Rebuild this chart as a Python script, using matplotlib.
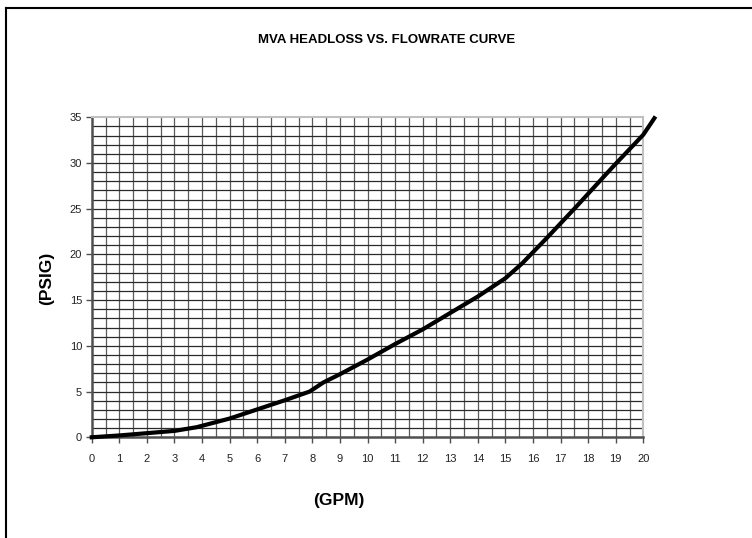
import numpy as np
import matplotlib.pyplot as plt
from matplotlib.lines import Line2D

plt.rcParams['font.family'] = ['Liberation Sans', 'DejaVu Sans']

# flowrate (GPM) and headloss (PSIG)
gpm = [0, 1, 2, 3, 3.8, 5, 6, 7, 7.9, 8.4, 9, 10, 11, 12, 13, 14, 15, 15.6,
       16.5, 17.5, 18.9, 20, 20.4]
psig = [0, 0.2, 0.45, 0.7, 1.1, 2.05, 3.05, 4.05, 5.0, 6.0, 6.9, 8.5, 10.2,
        11.8, 13.6, 15.4, 17.4, 19.0, 21.8, 25.0, 29.6, 33.1, 34.9]

x_ticks = list(range(0, 21))
y_ticks = [0, 5, 10, 15, 20, 25, 30, 35]

fig = plt.figure(figsize=(7.52, 5.38), dpi=100)
ax = fig.add_axes([0.122, 0.1872, 0.7335, 0.5948])

# grid: vertical every 0.5, horizontal every 1
for xv in np.arange(0.5, 20, 0.5):
    ax.axvline(xv, color='#5a5a5a', lw=0.9, zorder=1)
for yv in range(1, 35):
    ax.axhline(yv, color='#2a2a2a', lw=0.9, zorder=1)

ax.plot(gpm, psig, color='black', lw=3, clip_on=False, zorder=3,
        solid_joinstyle='round')

ax.set_xlim(0, 20)
ax.set_ylim(0, 35)
ax.set_xticks(x_ticks)
ax.set_yticks(y_ticks)
ax.tick_params(axis='both', direction='out', length=4, width=1,
               color='#505050', labelsize=8, labelcolor='#222222')
ax.tick_params(axis='x', pad=8)
ax.tick_params(axis='y', pad=3)

ax.spines['left'].set_color('#505050')
ax.spines['left'].set_linewidth(1.8)
ax.spines['bottom'].set_color('#505050')
ax.spines['bottom'].set_linewidth(1.8)
ax.spines['top'].set_color('#c0c0c0')
ax.spines['top'].set_linewidth(1.5)
ax.spines['right'].set_color('#c0c0c0')
ax.spines['right'].set_linewidth(1.5)

fig.text(387 / 752, 1 - 40 / 538, 'MVA HEADLOSS VS. FLOWRATE CURVE',
         ha='center', va='center', fontsize=9.5, fontweight='bold')
fig.text(47 / 752, 1 - 278 / 538, '(PSIG)', ha='center', va='center',
         rotation=90, fontsize=12.5, fontweight='bold')
fig.text(339 / 752, 1 - 500 / 538, '(GPM)', ha='center', va='center',
         fontsize=12.5, fontweight='bold')

# outer frame (left and top edges visible)
fig.add_artist(Line2D([6 / 752, 6 / 752], [0, 1 - 8 / 538],
                      color='black', lw=1.5, transform=fig.transFigure))
fig.add_artist(Line2D([6 / 752, 1], [1 - 8 / 538, 1 - 8 / 538],
                      color='black', lw=1.5, transform=fig.transFigure))

fig.savefig('out.png', dpi=100)
